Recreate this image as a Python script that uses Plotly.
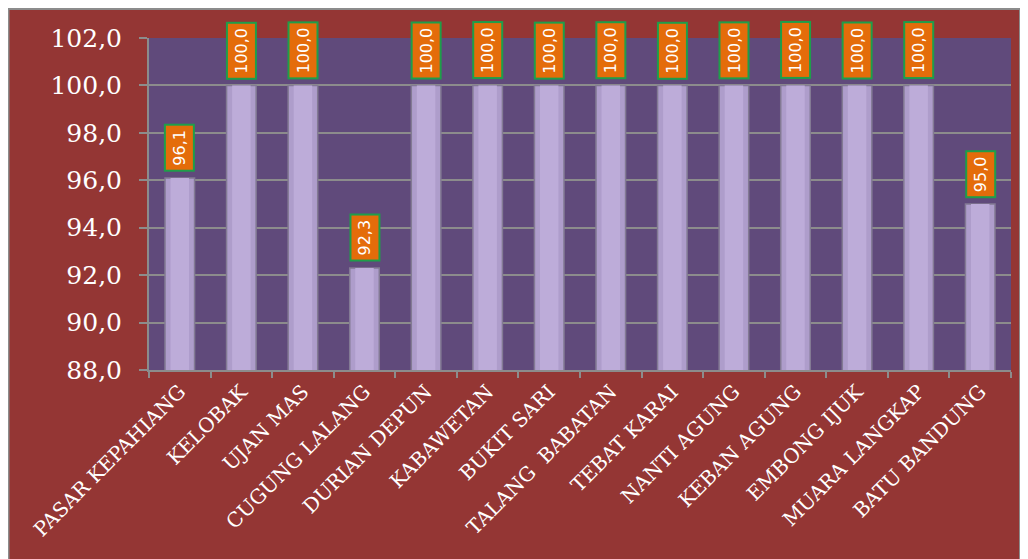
import plotly.graph_objects as go

categories = ["PASAR KEPAHIANG", "KELOBAK", "UJAN MAS", "CUGUNG LALANG", "DURIAN DEPUN",
              "KABAWETAN", "BUKIT SARI", "TALANG  BABATAN", "TEBAT KARAI", "NANTI AGUNG",
              "KEBAN AGUNG", "EMBONG IJUK", "MUARA LANGKAP", "BATU BANDUNG"]
values = [96.1, 100.0, 100.0, 92.3, 100.0, 100.0, 100.0, 100.0, 100.0, 100.0, 100.0, 100.0, 100.0, 95.0]
y_ticks = [88, 90, 92, 94, 96, 98, 100, 102]
y_tick_labels = ["88,0", "90,0", "92,0", "94,0", "96,0", "98,0", "100,0", "102,0"]

# page body has an 8px margin; figure placed at (8, 8)
W, H = 1013, 551
ML, MR, MT, MB = 141, 10, 30, 189
pw, ph = W - ML - MR, H - MT - MB

def px_x(p):
    return (p - ML) / pw

def px_y(p):
    return (H - MB - p) / ph

SERIF = "DejaVu Serif"

fig = go.Figure()
fig.add_trace(go.Bar(
    x=categories, y=values,
    width=0.48,
    marker=dict(color="#AE9DCB", line=dict(color="#837A94", width=1.5)),
    hoverinfo="skip",
))
fig.add_trace(go.Bar(
    x=categories, y=values,
    width=0.3,
    marker=dict(color="#BDACD9", line=dict(width=0)),
    hoverinfo="skip",
))

annotations = []
for c, v in zip(categories, values):
    annotations.append(dict(
        x=c, y=v, xref="x", yref="y",
        text=f"{v:.1f}".replace(".", ","),
        textangle=-90, showarrow=False,
        xanchor="center", yanchor="bottom", yshift=6,
        font=dict(family="DejaVu Sans", size=16, color="white"),
        bgcolor="#E46C0A", bordercolor="#1E9E4A", borderwidth=2, borderpad=4,
    ))

shapes = [
    dict(type="rect", xref="paper", yref="paper",
         x0=px_x(0.5), x1=px_x(1012), y0=px_y(560), y1=px_y(1),
         fillcolor="rgba(0,0,0,0)", line=dict(color="#8C8C8C", width=2), layer="below"),
    dict(type="rect", xref="paper", yref="paper",
         x0=0, x1=1, y0=0, y1=1,
         fillcolor="#604A7B", line=dict(width=0), layer="below"),
]

fig.update_layout(
    width=W, height=H,
    margin=dict(l=ML, r=MR, t=MT, b=MB),
    paper_bgcolor="#943634", plot_bgcolor="#604A7B",
    barmode="overlay", showlegend=False,
    annotations=annotations, shapes=shapes,
)
fig.update_yaxes(
    range=[88, 102], tickvals=y_ticks, ticktext=y_tick_labels,
    tickfont=dict(family=SERIF, size=25, color="white"),
    showgrid=True, gridcolor="#8C8C8C", gridwidth=2,
    showline=True, linecolor="#8C8C8C", linewidth=2,
    ticks="outside", ticklen=8, tickcolor="#8C8C8C", tickwidth=2,
    ticklabelstandoff=12,
    zeroline=False, automargin=False,
)
fig.update_xaxes(
    tickangle=-45, tickson="boundaries",
    tickfont=dict(family=SERIF, size=20, color="white"),
    showline=True, linecolor="#8C8C8C", linewidth=2,
    ticks="outside", ticklen=6, tickcolor="#8C8C8C", tickwidth=2,
    showgrid=False, automargin=False,
)

fig.write_html("out.html")
